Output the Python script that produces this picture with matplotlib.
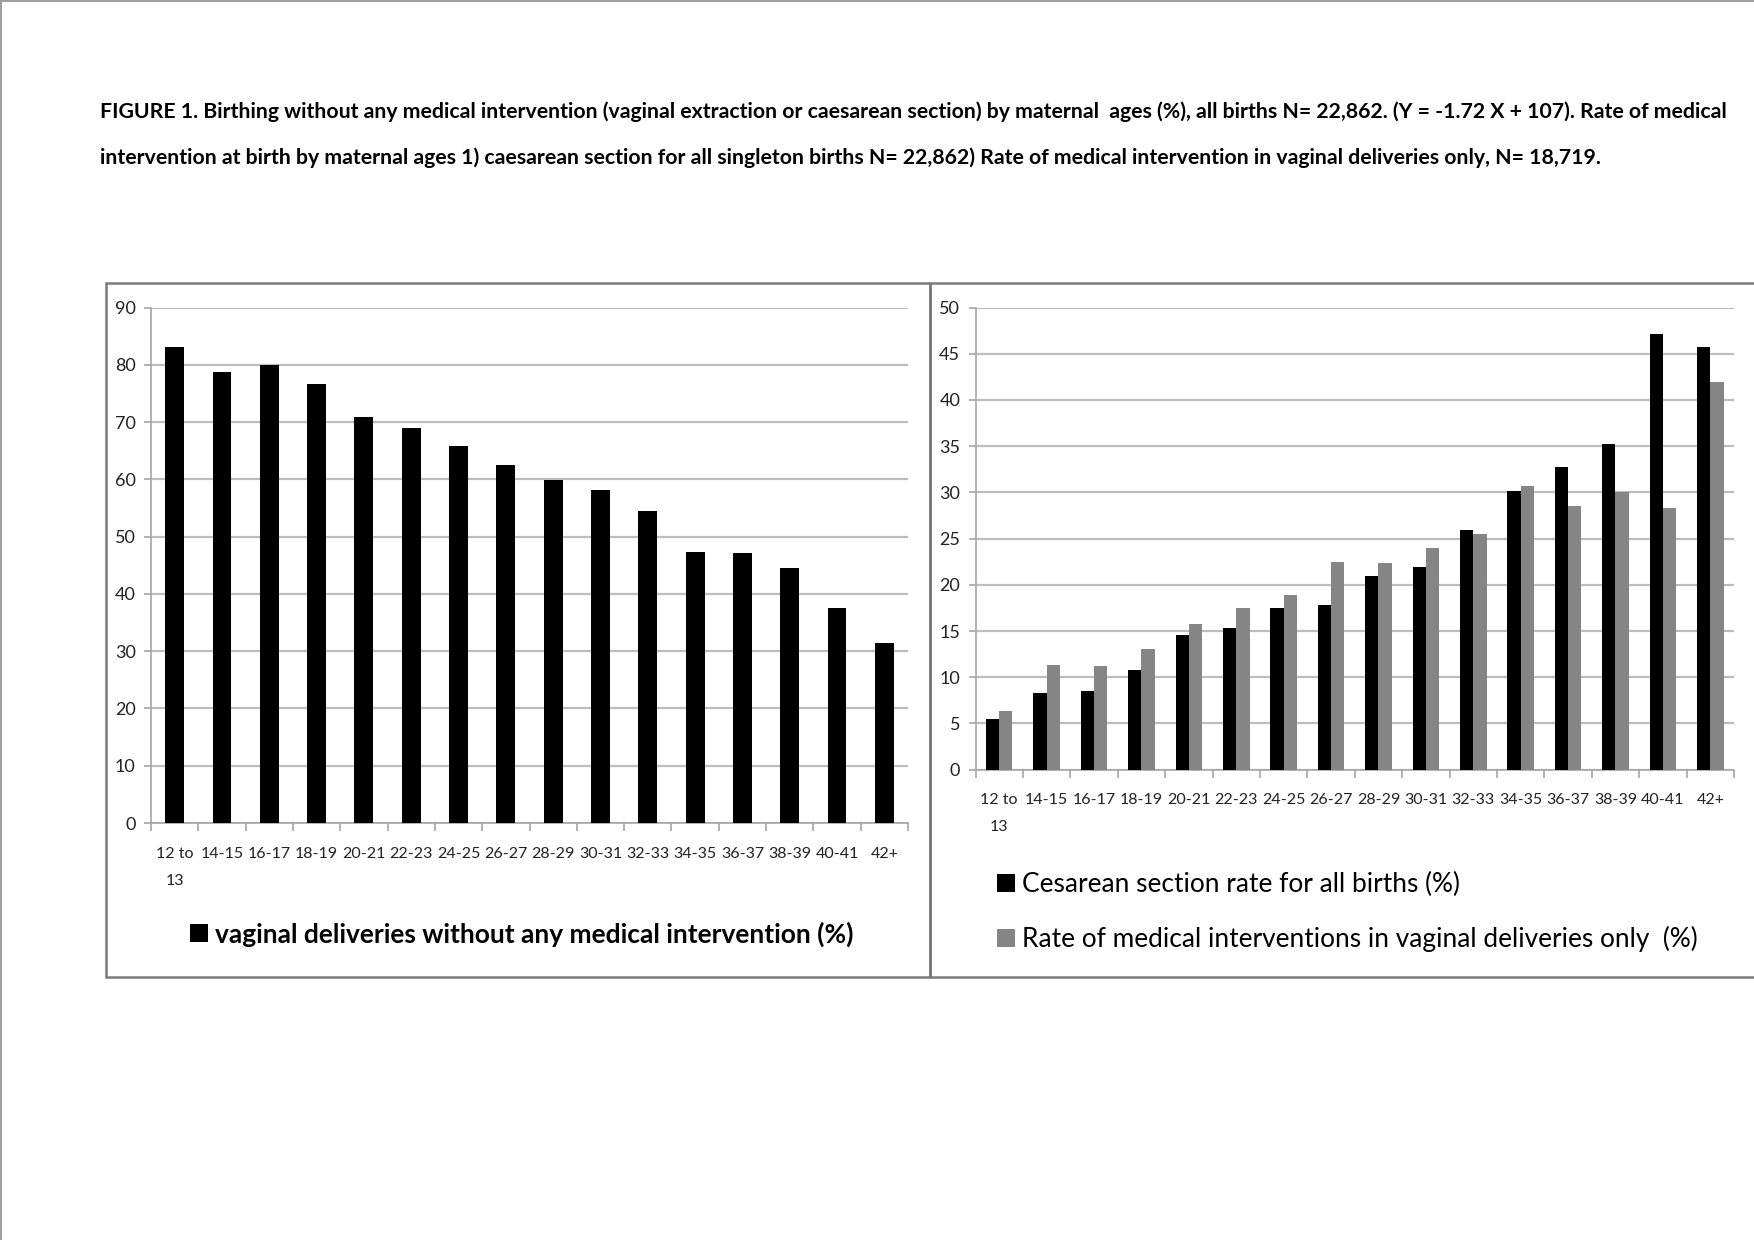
import matplotlib
matplotlib.use("Agg")
import matplotlib.pyplot as plt
import numpy as np
from matplotlib.lines import Line2D
from matplotlib.patches import Patch, Rectangle
from matplotlib.ticker import FixedLocator

AGE_GROUPS = ["12 to\n13", "14-15", "16-17", "18-19", "20-21", "22-23", "24-25", "26-27",
              "28-29", "30-31", "32-33", "34-35", "36-37", "38-39", "40-41", "42+"]
NO_INTERVENTION = [83.2, 78.8, 80.0, 76.7, 70.9, 68.9, 65.9, 62.5,
                   59.9, 58.2, 54.4, 47.3, 47.1, 44.6, 37.5, 31.4]
CESAREAN = [5.5, 8.3, 8.5, 10.8, 14.6, 15.3, 17.5, 17.8,
            21.0, 21.9, 25.9, 30.1, 32.7, 35.2, 47.1, 45.7]
VAGINAL_INTERVENTION = [6.3, 11.3, 11.2, 13.0, 15.8, 17.5, 18.9, 22.5,
                        22.4, 24.0, 25.5, 30.7, 28.5, 30.0, 28.3, 42.0]

CAPTION = [
    "FIGURE 1. Birthing without any medical intervention (vaginal extraction or caesarean section) "
    "by maternal  ages (%), all births N= 22,862. (Y = -1.72 X + 107). Rate of medical",
    "intervention at birth by maternal ages 1) caesarean section for all singleton births N= 22,862) "
    "Rate of medical intervention in vaginal deliveries only, N= 18,719.",
]
LEFT_LABEL = "vaginal deliveries without any medical intervention (%)"
RIGHT_LABELS = ["Cesarean section rate for all births (%)",
                "Rate of medical interventions in vaginal deliveries only  (%)"]

W, H = 1754, 1240
GRID = "#bdbdbd"
AXIS = "#a6a6a6"
BOX = "#7a7a7a"
GRAY_BAR = "#858585"

plt.rcParams["font.family"] = ["Lato", "DejaVu Sans"]


def _rect(x0, y0, x1, y1):
    # pixel box (top-left origin) -> figure fraction rect
    return [x0 / W, 1 - y1 / H, (x1 - x0) / W, (y1 - y0) / H]


def _style(ax, ymax, ystep):
    n = len(AGE_GROUPS)
    ax.set_xlim(-0.5, n - 0.5)
    ax.set_ylim(0, ymax)
    ax.set_yticks(np.arange(0, ymax + ystep / 2, ystep))
    ax.set_xticks(np.arange(n))
    ax.set_xticklabels(AGE_GROUPS, fontsize=11.5, linespacing=2.2, color="#222222")
    ax.xaxis.set_minor_locator(FixedLocator(np.arange(-0.5, n, 1.0)))
    ax.tick_params(axis="x", which="major", length=0, pad=17)
    ax.tick_params(axis="x", which="minor", length=6, color=AXIS, width=1.2)
    ax.tick_params(axis="y", length=5, color=AXIS, width=1.2, pad=6, labelsize=13, labelcolor="#222222")
    ax.grid(axis="y", color=GRID, linewidth=1.6)
    ax.set_axisbelow(True)
    for side in ("top", "right"):
        ax.spines[side].set_visible(False)
    for side in ("left", "bottom"):
        ax.spines[side].set_color(AXIS)
        ax.spines[side].set_linewidth(1.2)


fig = plt.figure(figsize=(W / 100, H / 100), dpi=100)

# page edge and panel frames
fig.add_artist(Line2D([0.5 / W, 0.5 / W], [0, 1], color="#a0a0a0", linewidth=1.5))
fig.add_artist(Line2D([0, 1], [1 - 0.5 / H, 1 - 0.5 / H], color="#a0a0a0", linewidth=1.5))
for x0, x1 in [(106, 930), (930, 1770)]:
    r = _rect(x0, 283, x1, 977)
    fig.add_artist(Rectangle((r[0], r[1]), r[2], r[3], transform=fig.transFigure,
                             fill=False, edgecolor=BOX, linewidth=1.8))

for i, line in enumerate(CAPTION):
    fig.text(100 / W, 1 - (112 + 46 * i) / H, line, ha="left", va="center",
             fontsize=15.35, fontweight="bold", color="black")

x = np.arange(len(AGE_GROUPS))

# left panel
ax1 = fig.add_axes(_rect(151, 307.6, 908, 823))
ax1.bar(x, NO_INTERVENTION, width=0.4, color="black", zorder=3)
_style(ax1, 90, 10)
ax1.legend(handles=[Patch(facecolor="black")], labels=[LEFT_LABEL],
           loc="center left", bbox_to_anchor=(190 / W, 1 - 934 / H), bbox_transform=fig.transFigure,
           frameon=False, prop={"size": 19, "weight": "bold"},
           handlelength=0.7, handleheight=0.7, handletextpad=0.25, borderpad=0, borderaxespad=0)

# right panel
ax2 = fig.add_axes(_rect(975.5, 307.6, 1734, 769.6))
b1 = ax2.bar(x - 0.14, CESAREAN, width=0.28, color="black", zorder=3)
b2 = ax2.bar(x + 0.14, VAGINAL_INTERVENTION, width=0.28, color=GRAY_BAR, zorder=3)
_style(ax2, 50, 5)
ax2.legend(handles=[b1, b2], labels=RIGHT_LABELS,
           loc="center left", bbox_to_anchor=(997 / W, 1 - 912 / H), bbox_transform=fig.transFigure,
           frameon=False, prop={"size": 18.9},
           handlelength=0.7, handleheight=0.7, handletextpad=0.25, labelspacing=1.1,
           borderpad=0, borderaxespad=0)

fig.savefig("out.png", dpi=100)
